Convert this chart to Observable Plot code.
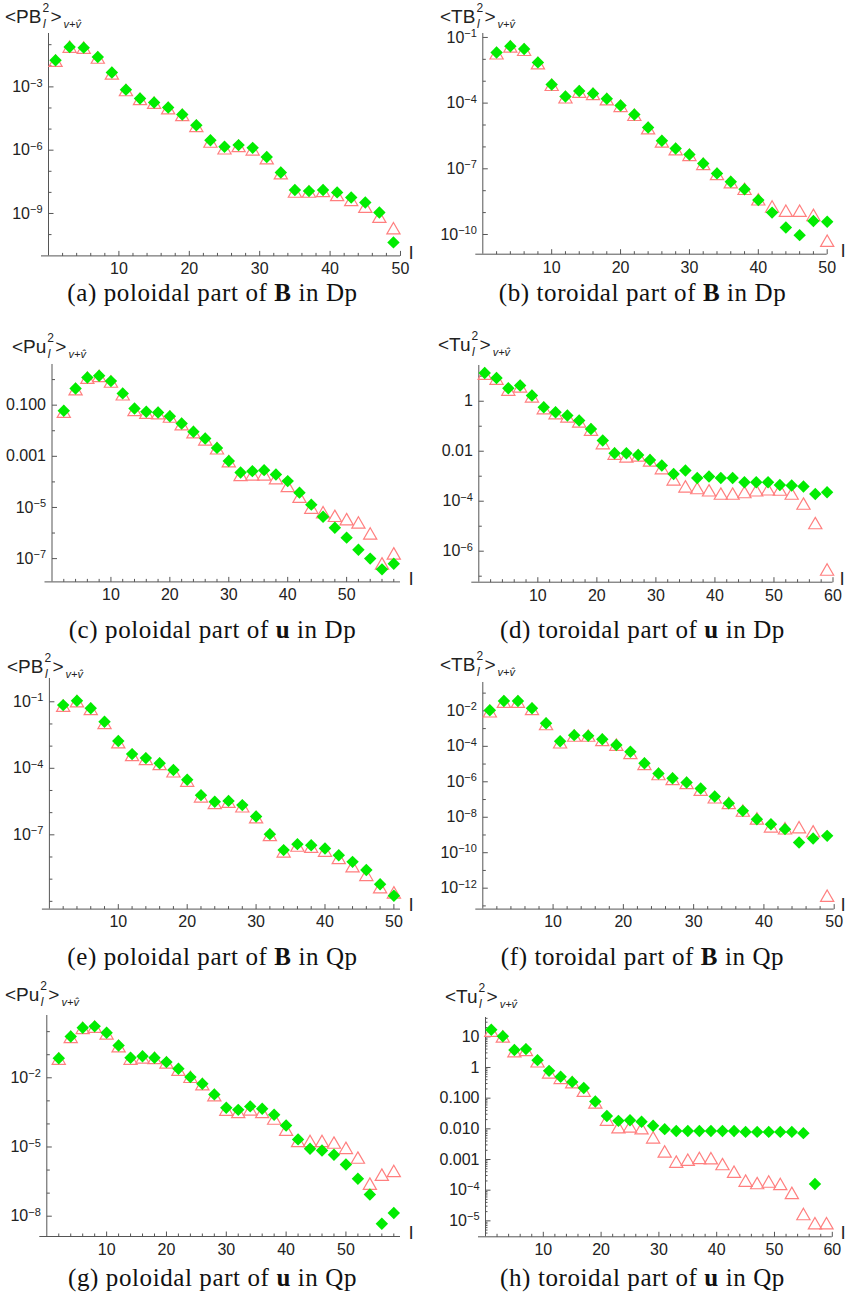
<!DOCTYPE html>
<html><head><meta charset="utf-8">
<script src="https://cdn.jsdelivr.net/npm/d3@7"></script>
<script src="https://cdn.jsdelivr.net/npm/@observablehq/plot@0.6"></script>
<style>
html,body{margin:0;padding:0;background:#fff;}
#root{position:relative;width:850px;height:1295px;overflow:hidden;background:#fff;}
.panel{position:absolute;}
.ylab{position:absolute;font-family:"Liberation Sans",Arial,sans-serif;font-size:19px;color:#222;white-space:nowrap;line-height:20px;}
.ss{position:relative;display:inline-block;width:9px;height:10px;}
.ss .sup{position:absolute;left:1px;top:-11px;font-size:12px;line-height:12px;font-style:normal;}
.ss .sub{position:absolute;left:1.5px;top:4.5px;font-size:12px;line-height:12px;font-style:italic;}
.vv{font-size:11px;font-style:italic;vertical-align:-5px;margin-left:2px;}
.cap{position:absolute;width:425px;text-align:center;font-family:"Liberation Serif","DejaVu Serif","Times New Roman",serif;font-size:25px;letter-spacing:0.6px;color:#111;line-height:30px;white-space:nowrap;}
.lax{position:absolute;font-family:"Liberation Sans",Arial,sans-serif;font-size:19px;color:#222;line-height:20px;}
</style></head>
<body><div id="root"></div>
<script>
// ---------- degree l values ----------
const lOdd50  = [1,3,5,7,9,11,13,15,17,19,21,23,25,27,29,31,33,35,37,39,41,43,45,47,49];
const lEven50 = [2,4,6,8,10,12,14,16,18,20,22,24,26,28,30,32,34,36,38,40,42,44,46,48,50];
const lEven58 = [2,4,6,8,10,12,14,16,18,20,22,24,26,28,30,32,34,36,38,40,42,44,46,48,50,52,54,56,58];
const lOdd59  = [1,3,5,7,9,11,13,15,17,19,21,23,25,27,29,31,33,35,37,39,41,43,45,47,49,51,53,55,57,59];

// ---------- values, stored as log10 of <X_l^2> ----------
const aGreen = [-1.74,-1.11,-1.14,-1.58,-2.32,-3.13,-3.55,-3.74,-3.98,-4.31,-4.82,-5.53,-5.84,-5.76,-5.89,-6.32,-7.06,-7.89,-7.94,-7.89,-8.00,-8.24,-8.48,-8.95,-10.37];
const aRed   = [-1.85,-1.18,-1.23,-1.70,-2.45,-3.24,-3.66,-3.84,-4.10,-4.42,-4.94,-5.68,-6.00,-5.89,-6.05,-6.47,-7.18,-8.05,-8.05,-8.02,-8.21,-8.45,-8.77,-9.24,-9.79];

const bGreen = [-1.69,-1.40,-1.53,-2.14,-3.15,-3.70,-3.45,-3.56,-3.80,-4.11,-4.52,-5.11,-5.72,-6.07,-6.35,-6.76,-7.21,-7.59,-7.93,-8.43,-9.00,-9.68,-10.03,-9.38,-9.42];
const bRed   = [-1.81,-1.50,-1.65,-2.26,-3.25,-3.82,-3.56,-3.67,-3.91,-4.21,-4.62,-5.23,-5.84,-6.19,-6.45,-6.86,-7.32,-7.70,-8.00,-8.48,-8.81,-9.00,-9.00,-9.19,-10.37];

const cGreen = [-1.22,-0.35,0.08,0.15,-0.06,-0.54,-1.13,-1.26,-1.29,-1.43,-1.72,-2.04,-2.30,-2.67,-3.18,-3.63,-3.58,-3.54,-3.71,-3.97,-4.42,-4.89,-5.36,-5.79,-6.18,-6.65,-7.00,-7.42,-7.20];
const cRed   = [-1.33,-0.45,0.00,0.07,-0.15,-0.65,-1.26,-1.37,-1.39,-1.52,-1.82,-2.13,-2.41,-2.76,-3.26,-3.80,-3.78,-3.78,-3.93,-4.23,-4.65,-5.08,-5.26,-5.40,-5.53,-5.66,-6.09,-7.26,-6.87];

const dGreen = [1.13,0.93,0.52,0.63,0.23,-0.24,-0.44,-0.57,-0.77,-1.11,-1.57,-2.08,-2.08,-2.15,-2.35,-2.57,-2.91,-2.77,-3.07,-3.01,-3.07,-3.07,-3.24,-3.24,-3.24,-3.35,-3.37,-3.41,-3.71,-3.64];
const dRed   = [1.03,0.83,0.39,0.52,0.12,-0.35,-0.55,-0.68,-0.88,-1.21,-1.75,-2.17,-2.28,-2.24,-2.44,-2.75,-3.20,-3.48,-3.55,-3.64,-3.77,-3.77,-3.71,-3.64,-3.60,-3.61,-3.77,-4.17,-4.95,-6.81];

const eGreen = [-1.15,-0.95,-1.29,-1.90,-2.77,-3.36,-3.54,-3.77,-4.08,-4.52,-5.21,-5.51,-5.47,-5.66,-6.17,-6.97,-7.69,-7.42,-7.47,-7.62,-7.92,-8.22,-8.59,-9.23,-9.75];
const eRed   = [-1.26,-1.06,-1.41,-2.04,-2.91,-3.48,-3.66,-3.89,-4.22,-4.64,-5.35,-5.65,-5.59,-5.80,-6.29,-7.09,-7.83,-7.57,-7.62,-7.80,-8.13,-8.50,-8.89,-9.45,-9.68];

const fGreen = [-1.96,-1.44,-1.44,-1.85,-2.70,-3.71,-3.37,-3.41,-3.60,-3.92,-4.31,-4.95,-5.53,-5.80,-6.04,-6.38,-6.83,-7.21,-7.64,-8.11,-8.39,-8.67,-9.42,-9.20,-9.05];
const fRed   = [-2.13,-1.59,-1.59,-2.00,-2.85,-3.88,-3.50,-3.50,-3.75,-4.01,-4.48,-5.10,-5.67,-5.95,-6.17,-6.55,-6.98,-7.30,-7.73,-8.17,-8.62,-8.73,-8.67,-8.90,-12.53];

const gGreen = [-1.15,-0.21,0.17,0.23,-0.05,-0.60,-1.13,-1.07,-1.13,-1.32,-1.61,-1.97,-2.26,-2.72,-3.30,-3.39,-3.24,-3.34,-3.60,-4.07,-4.67,-5.08,-5.15,-5.34,-5.76,-6.38,-7.06,-8.33,-7.86];
const gRed   = [-1.25,-0.31,0.08,0.13,-0.16,-0.71,-1.25,-1.20,-1.22,-1.42,-1.73,-2.04,-2.36,-2.84,-3.46,-3.56,-3.45,-3.56,-3.85,-4.33,-4.82,-4.82,-4.82,-4.89,-5.12,-5.54,-6.67,-6.28,-6.12];

const hGreen = [1.23,1.02,0.57,0.60,0.24,-0.11,-0.30,-0.47,-0.67,-1.11,-1.58,-1.74,-1.72,-1.77,-1.90,-2.01,-2.07,-2.07,-2.07,-2.07,-2.07,-2.07,-2.10,-2.10,-2.10,-2.10,-2.10,-2.14,-3.80,null];
const hRed   = [1.14,0.95,0.47,0.51,0.14,-0.22,-0.40,-0.54,-0.82,-1.20,-1.76,-2.01,-1.98,-2.04,-2.34,-2.80,-3.13,-3.07,-3.01,-3.02,-3.21,-3.46,-3.75,-3.83,-3.78,-3.86,-4.15,-4.84,-5.14,-5.14];

// ---------- tick values / labels ----------
const xTicks50 = [10,20,30,40,50];
const xTicks60 = [10,20,30,40,50,60];
const yLabelSpecial = {"1":"10","0":"1","-1":"0.100","-2":"0.010","-3":"0.001"};
const cSpecial = {"-1":"0.100","-3":"0.001"};
const dSpecial = {"0":"1","-2":"0.01"};

const captions = [
  ["(a) poloidal part of ","B"," in Dp"],["(b) toroidal part of ","B"," in Dp"],
  ["(c) poloidal part of ","u"," in Dp"],["(d) toroidal part of ","u"," in Dp"],
  ["(e) poloidal part of ","B"," in Qp"],["(f) toroidal part of ","B"," in Qp"],
  ["(g) poloidal part of ","u"," in Qp"],["(h) toroidal part of ","u"," in Qp"]
];
const ylabelNames = ["PB","TB","Pu","Tu","PB","TB","Pu","Tu"];

const panels = [
  {col:0,   frame:{l:48,   r:400,   t:33.3,  b:255.7}, xmax:50,    ylo:-11.01, yhi:-0.47, ls:lOdd50,  green:aGreen, red:aRed, xTicks:xTicks50, yMajor:[-3,-6,-9], yMinor:[-1,-2,-4,-5,-7,-8,-10], lab:{x:5,cy:17},  capY:293, lx:412},
  {col:425, frame:{l:482.3,r:826.7, t:33.3,  b:254},   xmax:50,    ylo:-10.9,  yhi:-0.82, ls:lEven50, green:bGreen, red:bRed, xTicks:xTicks50, yMajor:[-1,-4,-7,-10], yMinor:[-2,-3,-5,-6,-8,-9], lab:{x:440,cy:17}, capY:293, lx:844},
  {col:0,   frame:{l:51.5, r:400,   t:364.3, b:581.7}, xmax:59.14, ylo:-7.91,  yhi:0.59,  ls:lEven58, green:cGreen, red:cRed, xTicks:xTicks50, yMajor:[-1,-3,-5,-7], special:cSpecial, yMinor:[0,-2,-4,-6], lab:{x:12,cy:347}, capY:630, lx:412},
  {col:425, frame:{l:478.3,r:832.5, t:365,   b:581.7}, xmax:60,    ylo:-7.24,  yhi:1.43,  ls:lOdd59,  green:dGreen, red:dRed, xTicks:xTicks60, yMajor:[0,-2,-4,-6], special:dSpecial, yMinor:[1,-1,-3,-5,-7], lab:{x:438,cy:345}, capY:630, lx:843},
  {col:0,   frame:{l:48.9, r:400,   t:677.7, b:908.3}, xmax:50.96, ylo:-10.35, yhi:0.05,  ls:lEven50, green:eGreen, red:eRed, xTicks:xTicks50, yMajor:[-1,-4,-7], yMinor:[-2,-3,-5,-6,-8,-9,-10], lab:{x:7,cy:667}, capY:957, lx:412},
  {col:425, frame:{l:482.3,r:833.7, t:681.7, b:908.3}, xmax:50,    ylo:-13.18, yhi:-0.40, ls:lOdd50,  green:fGreen, red:fRed, xTicks:xTicks50, yMajor:[-2,-4,-6,-8,-10,-12], yMinor:[-1,-3,-5,-7,-9,-11,-13], lab:{x:440,cy:665}, capY:957, lx:844},
  {col:0,   frame:{l:46.3, r:400,   t:1015,  b:1236},  xmax:59.12, ylo:-8.88,  yhi:0.70,  ls:lEven58, green:gGreen, red:gRed, xTicks:xTicks50, yMajor:[-2,-5,-8], yMinor:[0,-1,-3,-4,-6,-7], lab:{x:5,cy:995}, capY:1278, lx:412},
  {col:425, frame:{l:485,  r:831.8, t:1016.7,b:1236},  xmax:60,    ylo:-5.52,  yhi:1.63,  ls:lOdd59,  green:hGreen, red:hRed, xTicks:xTicks60, yMajor:[1,0,-1,-2,-3,-4,-5], special:yLabelSpecial, yMinor:[], subDecades:true, lab:{x:445,cy:997}, capY:1278, lx:844}
];

const axisC = "#555";
const ns = "http://www.w3.org/2000/svg";
const tickRight = len => ({draw(c){ c.moveTo(0,0); c.lineTo(len,0); }});
const tickUp = len => ({draw(c){ c.moveTo(0,0); c.lineTo(0,-len); }});
function expLabel(e, special){
  if (special && special[String(e)] !== undefined) return special[String(e)];
  return "10^" + (e < 0 ? "\u2212" + (-e) : String(e));
}

const root = document.getElementById("root");

panels.forEach((p, idx) => {
  const mt = 10, mb = 34;
  const svgTop = p.frame.t - mt;
  const height = p.frame.b - p.frame.t + mt + mb;
  const toPts = (ls, vs) => ls.map((l,i)=>({l, e: vs[i]})).filter(d => d.e != null).map(d => ({l: d.l, v: Math.pow(10, d.e)}));
  const green = toPts(p.ls, p.green), red = toPts(p.ls, p.red);
  const yMaj = p.yMajor.map(e => Math.pow(10, e));
  const yMin = p.yMinor.map(e => Math.pow(10, e));
  let ySub = [];
  if (p.subDecades) {
    for (let k = Math.floor(p.ylo); k <= Math.ceil(p.yhi); k++)
      for (let m = 2; m <= 9; m++) {
        const v = m * Math.pow(10, k);
        const lg = Math.log10(v);
        if (lg > p.ylo + 0.02 && lg < p.yhi) ySub.push(v);
      }
  }
  const xMinor = d3.range(2, p.xmax + 0.01, 2).filter(v => v % 10 !== 0);
  const labelMap = new Map(p.yMajor.map(e => [e, expLabel(e, p.special)]));

  const chart = Plot.plot({
    width: 425, height,
    marginLeft: p.frame.l - p.col, marginRight: p.col + 425 - p.frame.r,
    marginTop: mt, marginBottom: mb,
    style: {fontFamily: "'Liberation Sans', Arial, sans-serif", fontSize: "16px", color: "#222", background: "transparent", overflow: "visible"},
    x: {domain: [0, p.xmax], ticks: p.xTicks, tickSize: 0, tickPadding: 7, tickFormat: d => String(d), label: null},
    y: {type: "log", domain: [Math.pow(10, p.ylo), Math.pow(10, p.yhi)], ticks: yMaj, tickSize: 0, tickPadding: 6,
        tickFormat: d => labelMap.get(Math.round(Math.log10(d))), label: null},
    marks: [
      Plot.ruleX([0], {stroke: axisC, strokeWidth: 1}),
      Plot.ruleY([Math.pow(10, p.ylo)], {stroke: axisC, strokeWidth: 1, insetLeft: -7}),
      Plot.dot(yMaj, {y: d => d, frameAnchor: "left", symbol: tickRight(5), r: 1, stroke: axisC, fill: "none", strokeWidth: 1}),
      Plot.dot(yMin, {y: d => d, frameAnchor: "left", symbol: tickRight(3), r: 1, stroke: axisC, fill: "none", strokeWidth: 1}),
      Plot.dot(ySub, {y: d => d, frameAnchor: "left", symbol: tickRight(2), r: 1, stroke: axisC, fill: "none", strokeWidth: 1}),
      Plot.dot(p.xTicks, {x: d => d, frameAnchor: "bottom", symbol: tickUp(5), r: 1, stroke: axisC, fill: "none", strokeWidth: 1}),
      Plot.dot(xMinor, {x: d => d, frameAnchor: "bottom", symbol: tickUp(3), r: 1, stroke: axisC, fill: "none", strokeWidth: 1}),
      Plot.dot(red, {x: "l", y: "v", symbol: "triangle", r: 4.9, stroke: "#ff7f7f", fill: "none", strokeWidth: 1.2}),
      Plot.dot(green, {x: "l", y: "v", symbol: "diamond2", r: 5.6, fill: "#00ec00", stroke: "none"})
    ]
  });

  // superscript exponents in tick labels
  chart.querySelectorAll("text").forEach(t => {
    const s = t.textContent;
    const k = s.indexOf("^");
    if (k < 0) return;
    t.textContent = "";
    const t1 = document.createElementNS(ns, "tspan"); t1.textContent = s.slice(0, k);
    const t2 = document.createElementNS(ns, "tspan"); t2.textContent = s.slice(k + 1);
    t2.setAttribute("dy", "-0.5em"); t2.setAttribute("font-size", "11px");
    t.appendChild(t1); t.appendChild(t2);
  });

  const holder = document.createElement("div");
  holder.className = "panel";
  holder.style.left = p.col + "px";
  holder.style.top = svgTop + "px";
  holder.appendChild(chart);
  root.appendChild(holder);

  // y label
  const yl = document.createElement("div");
  yl.className = "ylab";
  yl.style.left = p.lab.x + "px";
  yl.style.top = (p.lab.cy - 10) + "px";
  yl.innerHTML = "&lt;" + ylabelNames[idx] + "<span class=\"ss\"><span class=\"sup\">2</span><span class=\"sub\">l</span></span>&gt;<span class=\"vv\">v+v\u0302</span>";
  root.appendChild(yl);

  // "l" axis label
  const lx = document.createElement("div");
  lx.className = "lax";
  lx.style.left = (p.lx - 3) + "px";
  lx.style.top = (p.frame.b - 13) + "px";
  lx.textContent = "l";
  root.appendChild(lx);

  // caption
  const cap = document.createElement("div");
  cap.className = "cap";
  cap.style.left = (p.col === 0 ? 0 : 430) + "px";
  cap.style.top = (p.capY - 15) + "px";
  const c = captions[idx];
  cap.innerHTML = c[0] + "<b>" + c[1] + "</b>" + c[2];
  root.appendChild(cap);
});
</script>
</body></html>
